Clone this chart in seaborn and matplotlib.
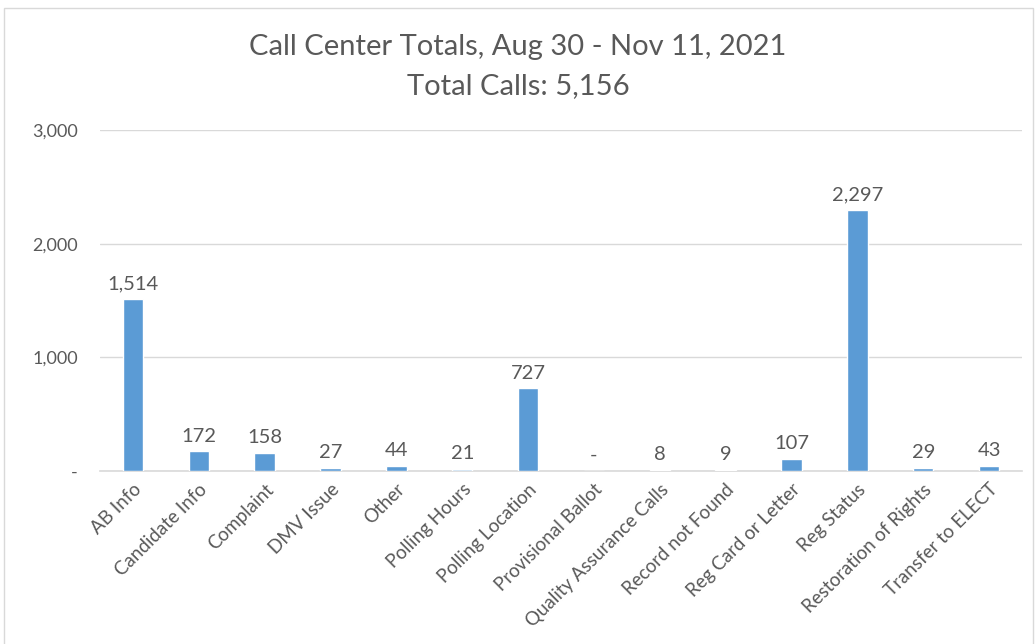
import matplotlib
matplotlib.use('Agg')
import matplotlib.pyplot as plt
import seaborn as sns
import pandas as pd
from matplotlib.patches import Rectangle

categories = ['AB Info', 'Candidate Info', 'Complaint', 'DMV Issue', 'Other',
              'Polling Hours', 'Polling Location', 'Provisional Ballot',
              'Quality Assurance Calls', 'Record not Found', 'Reg Card or Letter',
              'Reg Status', 'Restoration of Rights', 'Transfer to ELECT']
calls = [1514, 172, 158, 27, 44, 21, 727, 0, 8, 9, 107, 2297, 29, 43]
y_ticks = [0, 1000, 2000, 3000]
y_tick_labels = ['-', '1,000', '2,000', '3,000']

df = pd.DataFrame({'Category': categories, 'Calls': calls})

sns.set_style('white')
plt.rcParams['font.family'] = ['Lato', 'DejaVu Sans']
text_color = '#595959'

fig = plt.figure(figsize=(10.36, 6.44), dpi=100)
ax = fig.add_axes([0.0965, 0.2686, 0.89, 0.5295])

colors = ['#5B9BD5'] * len(categories)
colors[5] = '#BDD7EE'
sns.barplot(data=df, x='Category', y='Calls', hue='Category', palette=colors,
            legend=False, width=0.31, saturation=1, ax=ax, zorder=3)

for i, v in enumerate(calls):
    label = '-' if v == 0 else f'{v:,}'
    ax.text(i, v + 60, label, ha='center', va='bottom', fontsize=14.5, color=text_color)

ax.set_xlim(-0.5, len(categories) - 0.5)
ax.set_ylim(0, 3000)
ax.set_yticks(y_ticks)
ax.set_yticklabels(y_tick_labels, fontsize=13, color=text_color)
ax.tick_params(axis='y', length=0, pad=16)
ax.tick_params(axis='x', length=0, pad=7)
ax.set_xticks(range(len(categories)))
ax.set_xticklabels(categories, rotation=45, ha='right', rotation_mode='anchor',
                   fontsize=13.5, color=text_color)
ax.set_xlabel('')
ax.set_ylabel('')
ax.yaxis.grid(True, color='#d9d9d9', linewidth=1)
ax.set_axisbelow(True)
for s in ['top', 'right', 'left']:
    ax.spines[s].set_visible(False)
ax.spines['bottom'].set_color('#d9d9d9')
ax.spines['bottom'].set_linewidth(1.2)

fig.text(0.5, 0.927, 'Call Center Totals, Aug 30 - Nov 11, 2021', ha='center', va='center',
         fontsize=21, color=text_color)
fig.text(0.5, 0.866, 'Total Calls: 5,156', ha='center', va='center',
         fontsize=21, color=text_color)

fig.patches.append(Rectangle((0.004, -0.01), 0.993, 0.998, transform=fig.transFigure,
                             fill=False, edgecolor='#d9d9d9', linewidth=1))

fig.savefig('out.png', dpi=100)
